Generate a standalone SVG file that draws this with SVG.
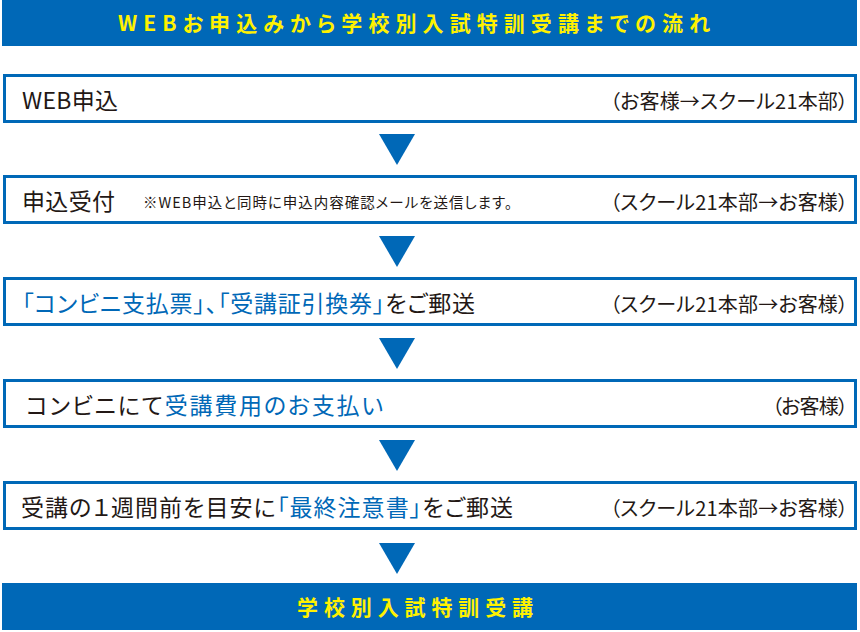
<svg xmlns="http://www.w3.org/2000/svg" width="860" height="632" viewBox="0 0 860 632">
<style>
text { font-family: "Noto Sans CJK JP", "Noto Sans", sans-serif; font-feature-settings: "palt" 1; }
.bar { fill: #0068b7; }
.title { fill: #fff100; font-weight: 700; font-size: 21px; }
.box { fill: #ffffff; stroke: #0068b7; stroke-width: 3; }
.main { fill: #231815; font-size: 23px; font-weight: 400; }
.blue { fill: #0068b7; }
.note { fill: #231815; font-size: 14.5px; }
.who { fill: #231815; font-size: 20px; }
.arrow { fill: #0068b7; }
</style>
<defs>
<polygon id="tri" points="379,0 415,0 397,31"/>
</defs>
<g id="header">
<rect class="bar" x="2" y="0" width="855" height="46"/>
<text class="title" x="118" y="31" textLength="592" lengthAdjust="spacing">WEBお申込みから学校別入試特訓受講までの流れ</text>
</g>
<g id="step1">
<rect class="box" x="4.5" y="75.5" width="851" height="46"/>
<text class="main" x="22" y="109" textLength="96" lengthAdjust="spacing">WEB申込</text>
<text class="who" x="610" y="109" textLength="238" lengthAdjust="spacing">（お客様→スクール21本部）</text>
</g>
<g id="step2">
<rect class="box" x="4.5" y="176.5" width="851" height="46"/>
<text class="main" x="22" y="210" textLength="93" lengthAdjust="spacing">申込受付</text>
<text class="note" x="143" y="208" textLength="369" lengthAdjust="spacing">※WEB申込と同時に申込内容確認メールを送信します。</text>
<text class="who" x="610" y="210" textLength="238" lengthAdjust="spacing">（スクール21本部→お客様）</text>
</g>
<g id="step3">
<rect class="box" x="4.5" y="278.5" width="851" height="46"/>
<text class="main" x="22" y="312" textLength="453" lengthAdjust="spacing"><tspan class="blue">「コンビニ支払票」、「受講証引換券」</tspan>をご郵送</text>
<text class="who" x="610" y="312" textLength="238" lengthAdjust="spacing">（スクール21本部→お客様）</text>
</g>
<g id="step4">
<rect class="box" x="4.5" y="380.5" width="851" height="46"/>
<text class="main" x="26" y="414" textLength="357" lengthAdjust="spacing">コンビニにて<tspan class="blue">受講費用のお支払い</tspan></text>
<text class="who" x="772" y="414" textLength="76" lengthAdjust="spacing">（お客様）</text>
</g>
<g id="step5">
<rect class="box" x="4.5" y="482.5" width="851" height="46"/>
<text class="main" x="21" y="516" textLength="492" lengthAdjust="spacing">受講の１週間前を目安に<tspan class="blue">「最終注意書」</tspan>をご郵送</text>
<text class="who" x="610" y="516" textLength="238" lengthAdjust="spacing">（スクール21本部→お客様）</text>
</g>
<g id="goal">
<rect class="bar" x="2" y="583" width="855" height="47"/>
<text class="title" x="297" y="615" textLength="236" lengthAdjust="spacing">学校別入試特訓受講</text>
</g>
<g id="connectors">
<use href="#tri" class="arrow" y="134"/>
<use href="#tri" class="arrow" y="236"/>
<use href="#tri" class="arrow" y="338"/>
<use href="#tri" class="arrow" y="440"/>
<use href="#tri" class="arrow" y="543"/>
</g>
</svg>
